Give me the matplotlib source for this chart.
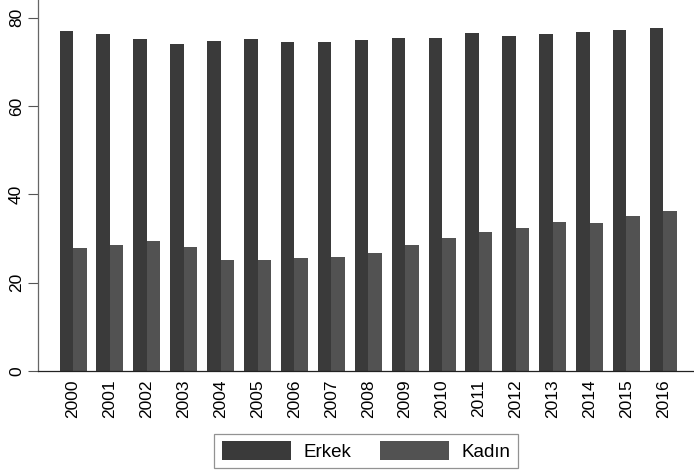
import numpy as np
import matplotlib
matplotlib.use("Agg")
import matplotlib.pyplot as plt

plt.rcParams['font.family'] = ['Liberation Sans', 'DejaVu Sans']

years = [str(y) for y in range(2000, 2017)]
erkek = [77.0, 76.2, 75.2, 74.1, 74.7, 75.1, 74.4, 74.4, 74.9, 75.3, 75.4,
         76.5, 75.9, 76.4, 76.7, 77.1, 77.7]
kadin = [27.9, 28.5, 29.5, 28.0, 25.1, 25.1, 25.5, 25.7, 26.7, 28.5, 30.2,
         31.4, 32.3, 33.7, 33.5, 35.0, 36.2]
series_names = ['Erkek', 'Kadın']

c_erkek = '#3a3a3a'
c_kadin = '#525252'

fig = plt.figure(figsize=(6.94, 4.73), dpi=100)
ax = fig.add_axes([38 / 694, 102 / 473, 656 / 694, 371 / 473])

x = np.arange(len(years))
w = 0.366
ax.bar(x - w / 2, erkek, width=w, color=c_erkek, label=series_names[0], linewidth=0)
ax.bar(x + w / 2, kadin, width=w, color=c_kadin, label=series_names[1], linewidth=0)

ax.set_xlim(-0.95, 16.83)
ax.set_ylim(0, 84.0)
ax.set_yticks([0, 20, 40, 60, 80])
ax.set_xticks(x)
ax.set_xticklabels(years, rotation=90, fontsize=12.5)
ax.tick_params(axis='x', length=0, pad=6)
ax.tick_params(axis='y', length=7, width=0.8, color='#555555', labelsize=12.5, pad=3)
for lab in ax.get_yticklabels():
    lab.set_rotation(90)
    lab.set_va('center')

for s in ['top', 'right']:
    ax.spines[s].set_visible(False)
ax.spines['left'].set_color('#666666')
ax.spines['bottom'].set_color('#222222')
ax.spines['left'].set_linewidth(0.9)
ax.spines['bottom'].set_linewidth(0.9)

leg = fig.legend(loc='center', bbox_to_anchor=(366 / 694, 1 - 451 / 473), ncol=2,
                 frameon=True, fancybox=False, fontsize=13.5, handlelength=3.7,
                 handleheight=1.2, columnspacing=1.5, handletextpad=0.65,
                 borderpad=0.4, edgecolor='#777777')
leg.get_frame().set_linewidth(0.9)

fig.savefig('out.png', dpi=100)
